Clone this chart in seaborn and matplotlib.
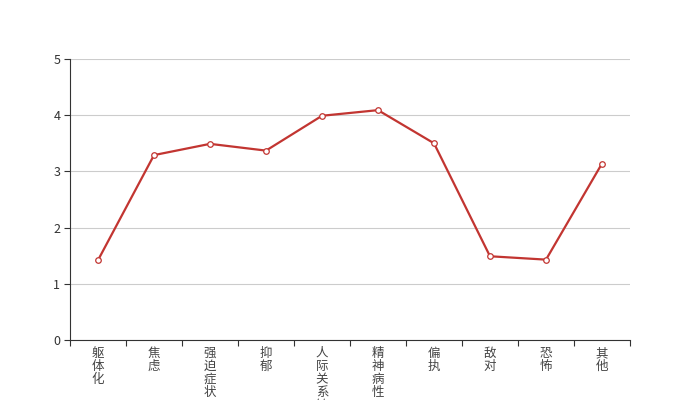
import matplotlib
matplotlib.use("Agg")
import matplotlib.pyplot as plt
import seaborn as sns
import pandas as pd
import numpy as np
from matplotlib.ticker import FixedLocator

categories = ["躯体化", "焦虑", "强迫症状", "抑郁", "人际关系敏感", "精神病性", "偏执", "敌对", "恐怖", "其他"]
values = [1.42, 3.29, 3.49, 3.37, 3.99, 4.09, 3.50, 1.49, 1.43, 3.14]
yticks = [0, 1, 2, 3, 4, 5]

sns.set_theme(style="white")
plt.rcParams['font.family'] = ['Noto Sans CJK SC', 'DejaVu Sans']

df = pd.DataFrame({"cat": categories, "val": values})

fig = plt.figure(figsize=(7, 4), dpi=100)
ax = fig.add_axes([0.1, 0.15, 0.8, 0.7025])

sns.lineplot(data=df, x="cat", y="val", ax=ax, color="#c23531", linewidth=1.6,
             marker="o", markersize=4, markerfacecolor="white",
             markeredgecolor="#c23531", markeredgewidth=0.9, sort=False)

ax.set_xlim(-0.5, len(categories) - 0.5)
ax.set_ylim(0, 5)
ax.set_yticks(yticks)
ax.set_yticklabels([str(t) for t in yticks], fontsize=9, color="#333333")
ax.yaxis.grid(True, color="#cccccc", linewidth=0.8)
ax.set_axisbelow(True)

ax.set_xticks(range(len(categories)))
ax.set_xticklabels(["\n".join(c) for c in categories], fontsize=9, color="#444444",
                   linespacing=1.0, va="top")
ax.tick_params(axis="x", which="major", length=0, pad=5)
ax.xaxis.set_minor_locator(FixedLocator(np.arange(-0.5, len(categories), 1.0)))
ax.tick_params(axis="x", which="minor", length=4, color="#333333", width=0.8, bottom=True)
ax.tick_params(axis="y", which="major", length=4, color="#333333", width=0.8, left=True, pad=3)

for s in ["top", "right"]:
    ax.spines[s].set_visible(False)
for s in ["left", "bottom"]:
    ax.spines[s].set_color("#333333")
    ax.spines[s].set_linewidth(0.8)

ax.set_xlabel("")
ax.set_ylabel("")

fig.savefig("out.png", dpi=100)
